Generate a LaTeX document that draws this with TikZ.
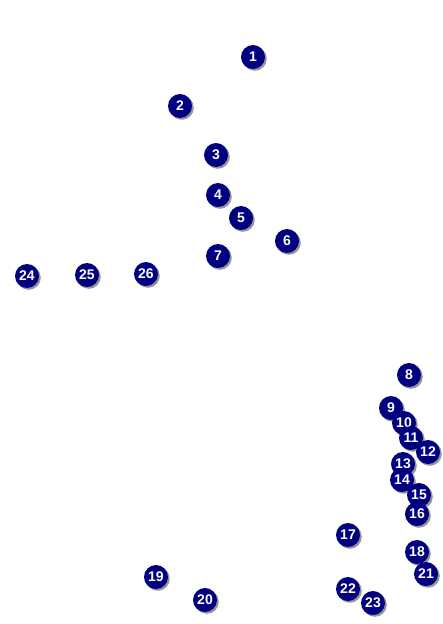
\documentclass[tikz,border=0pt]{standalone}
\usepackage{fontspec}
\setmainfont{Liberation Sans}
\definecolor{navyball}{RGB}{0, 0, 128}
\definecolor{ballshadow}{RGB}{150, 150, 150}
\usetikzlibrary{shadows}

\tikzset{
  ball/.style={circle, fill=navyball, minimum size=24pt, inner sep=0pt,
    text=white, font=\bfseries\fontsize{14}{14}\selectfont,
    drop shadow={shadow xshift=1.8pt, shadow yshift=-1.8pt, fill=ballshadow, opacity=1}}
}

\begin{document}
\begin{tikzpicture}[x=1pt, y=-1pt]
    \useasboundingbox (0,0) rectangle (442,624);
    % upper group
    \node[ball] (b1) at (253, 57) {1};
    \node[ball] (b2) at (180, 106) {2};
    \node[ball] (b3) at (216, 155) {3};
    \node[ball] (b4) at (218, 195) {4};
    \node[ball] (b5) at (241, 218) {5};
    \node[ball] (b6) at (287, 241) {6};
    \node[ball] (b7) at (218, 256) {7};

    % right column
    \node[ball] (b8) at (409, 375) {8};
    \node[ball] (b9) at (391, 408) {9};
    \node[ball] (b10) at (404, 423) {10};
    \node[ball] (b11) at (411, 438) {11};
    \node[ball] (b12) at (428, 452) {12};
    \node[ball] (b13) at (403, 464) {13};
    \node[ball] (b14) at (402, 480) {14};
    \node[ball] (b15) at (419, 495) {15};
    \node[ball] (b16) at (417, 514) {16};
    \node[ball] (b17) at (348, 535) {17};
    \node[ball] (b18) at (417, 552) {18};

    % bottom
    \node[ball] (b19) at (156, 577) {19};
    \node[ball] (b20) at (205, 600) {20};
    \node[ball] (b21) at (426, 574) {21};
    \node[ball] (b22) at (348, 589) {22};
    \node[ball] (b23) at (373, 603) {23};

    % left row
    \node[ball] (b24) at (27, 276) {24};
    \node[ball] (b25) at (87, 275) {25};
    \node[ball] (b26) at (146, 274) {26};
\end{tikzpicture}
\end{document}
